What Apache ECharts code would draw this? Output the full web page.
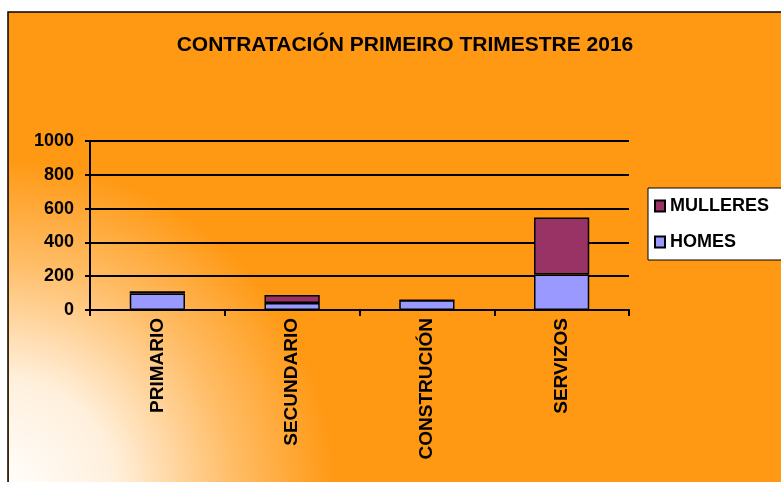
<!DOCTYPE html>
<html>
<head>
<meta charset="utf-8">
<style>
  html, body { margin: 0; padding: 0; background: #fff; }
  #main { width: 781px; height: 482px; }
</style>
<script src="https://cdn.jsdelivr.net/npm/echarts@6/dist/echarts.min.js"></script>
</head>
<body>
<div id="main"></div>
<script>
var sectores = ['PRIMARIO', 'SECUNDARIO', 'CONSTRUCIÓN', 'SERVIZOS'];
var homes = [98, 42, 57, 210];
var mulleres = [13, 47, 2, 337];
var yTicks = [0, 200, 400, 600, 800, 1000];

var chart = echarts.init(document.getElementById('main'));
var fontFam = '"Liberation Sans", Arial, sans-serif';

var option = {
    animation: false,
    textStyle: { fontFamily: fontFam },
    graphic: [
        {
            type: 'rect',
            z: -20,
            shape: { x: 8, y: 12, width: 790, height: 490 },
            style: { fill: '#FF9914', stroke: '#000', lineWidth: 1.5 }
        },
        {
            type: 'rect',
            z: -19,
            silent: true,
            shape: { x: 9, y: 13, width: 780, height: 480 },
            style: {
                fill: new echarts.graphic.RadialGradient(0, 495, 335, [
                    { offset: 0, color: 'rgba(255,255,255,1)' },
                    { offset: 0.35, color: 'rgba(255,255,255,0.85)' },
                    { offset: 0.7, color: 'rgba(255,255,255,0.35)' },
                    { offset: 1, color: 'rgba(255,255,255,0)' }
                ], true)
            }
        }
    ],
    title: {
        text: 'CONTRATACIÓN PRIMEIRO TRIMESTRE 2016',
        left: 400,
        textAlign: 'center',
        top: 30,
        textStyle: { fontSize: 21, fontWeight: 'bold', color: '#000', fontFamily: fontFam }
    },
    legend: {
        data: ['MULLERES', 'HOMES'],
        orient: 'vertical',
        left: 648,
        top: 188,
        backgroundColor: '#fff',
        borderColor: '#000',
        borderWidth: 1,
        borderRadius: 0,
        padding: [9, 30, 9, 6],
        itemWidth: 10,
        itemHeight: 11,
        itemGap: 18,
        icon: 'rect',
        textStyle: { fontSize: 18, fontWeight: 'bold', color: '#000', fontFamily: fontFam }
    },
    grid: { left: 90, right: 152, top: 141, bottom: 172 },
    xAxis: {
        type: 'category',
        data: sectores,
        axisLine: { lineStyle: { color: '#000', width: 2 } },
        axisTick: { show: true, length: 6, lineStyle: { color: '#000', width: 2 } },
        axisLabel: {
            rotate: 90,
            margin: 8,
            color: '#000',
            fontSize: 19,
            fontWeight: 'bold',
            fontFamily: fontFam
        }
    },
    yAxis: {
        type: 'value',
        min: 0,
        max: 1000,
        interval: 200,
        axisLine: { show: true, lineStyle: { color: '#000', width: 2 } },
        axisTick: { show: true, length: 5, lineStyle: { color: '#000', width: 2 } },
        splitLine: { lineStyle: { color: '#000', width: 2 } },
        axisLabel: {
            margin: 16,
            color: '#000',
            fontSize: 18,
            fontWeight: 'bold',
            fontFamily: fontFam,
            formatter: function (v) { return yTicks.indexOf(v) >= 0 ? String(v) : ''; }
        }
    },
    series: [
        {
            name: 'HOMES',
            type: 'bar',
            stack: 'total',
            barWidth: '41%',
            data: homes,
            itemStyle: { color: '#9999FF', borderColor: '#000', borderWidth: 1.5 }
        },
        {
            name: 'MULLERES',
            type: 'bar',
            stack: 'total',
            barWidth: '41%',
            data: mulleres,
            itemStyle: { color: '#993366', borderColor: '#000', borderWidth: 1.5 }
        }
    ]
};

chart.setOption(option);
window.onresize = chart.resize;
</script>
</body>
</html>
